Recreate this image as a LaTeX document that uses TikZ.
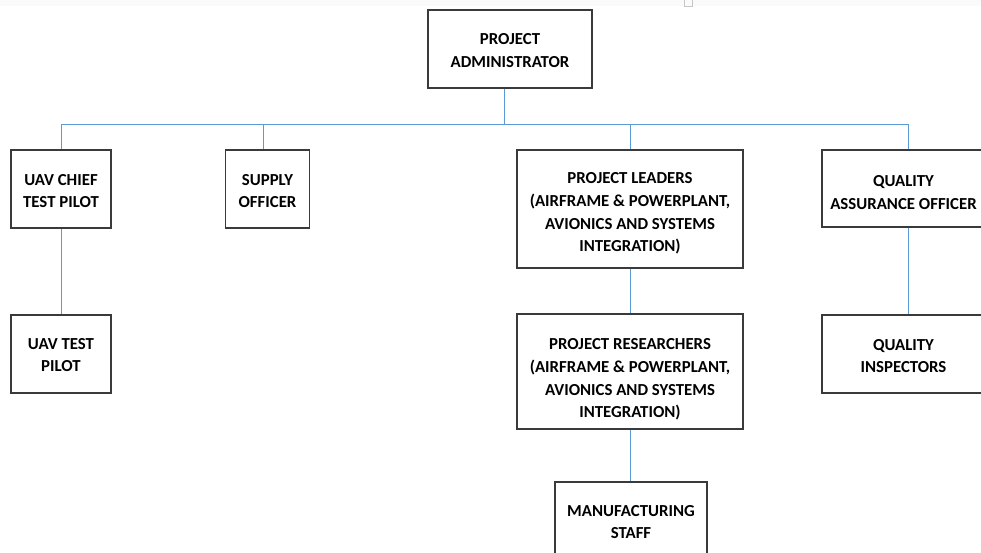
\documentclass[tikz,border=0pt]{standalone}
\usepackage{fontspec}
\setmainfont{Carlito}
\usetikzlibrary{calc}
\definecolor{linkblue}{HTML}{5B9BD5}
\definecolor{boxline}{HTML}{3A3A3A}
\definecolor{topband}{HTML}{FAFAFA}
% invisible strut that lowers the text block inside a fixed-size box
\newcommand\padtop[1]{\rule{0pt}{#1pt}}
\begin{document}
\begin{tikzpicture}[x=1pt,y=-1pt,
  unit/.style={draw=boxline,line width=1.2pt,fill=white,align=center,
    font=\fontsize{16.8}{22.6}\selectfont\bfseries,inner sep=0pt},
  link/.style={draw=linkblue,line width=0.9pt}]
\useasboundingbox (0,0) rectangle (981,553);
\clip (0,0) rectangle (981,553);
\fill[white] (0,0) rectangle (981,553);
\fill[topband] (0,0) rectangle (981,6);
% small gray mark at the top edge
\draw[gray!45,line width=0.8pt] (684.5,0) -- (684.5,6.5) -- (692.5,6.5) -- (692.5,0);

% boxes
\node[unit,minimum width=164,minimum height=78] (admin) at (510,49)
  {\padtop{14}PROJECT\\ADMINISTRATOR};
\node[unit,minimum width=100,minimum height=78] (chief) at (61,189)
  {\padtop{15}UAV CHIEF\\TEST PILOT};
\node[unit,minimum width=84,minimum height=78] (supply) at (267.5,189)
  {\padtop{15}SUPPLY\\OFFICER};
\node[unit,minimum width=226,minimum height=118] (leaders) at (630,209)
  {\padtop{20}PROJECT LEADERS\\(AIRFRAME \& POWERPLANT,\\AVIONICS AND SYSTEMS\\INTEGRATION)};
\node[unit,minimum width=163,minimum height=77] (qa) at (903.5,188.5)
  {\padtop{19}QUALITY\\ASSURANCE OFFICER};
\node[unit,minimum width=100,minimum height=78] (pilot) at (61,354)
  {\padtop{13}UAV TEST\\PILOT};
\node[unit,minimum width=226,minimum height=115] (research) at (630,371.5)
  {\padtop{27}PROJECT RESEARCHERS\\(AIRFRAME \& POWERPLANT,\\AVIONICS AND SYSTEMS\\INTEGRATION)};
\node[unit,minimum width=163,minimum height=78] (qi) at (903.5,354)
  {\padtop{15}QUALITY\\INSPECTORS};
\node[unit,minimum width=152,minimum height=78] (staff) at (631,521)
  {\padtop{13}MANUFACTURING\\STAFF};

% reporting lines
\coordinate (busL) at (61,124);
\coordinate (busR) at (908,124);
\coordinate (adminfoot) at ($(admin.south)+(-6,0)$);
\coordinate (supplytop) at ($(supply.north)+(-4.5,0)$);
\draw[link] (busL) -- (busR);
\draw[link] (adminfoot) -- (adminfoot |- busL);
\draw[link] (busL) -- (chief.north);
\draw[link] (supplytop |- busL) -- (supplytop);
\draw[link] (leaders.north |- busL) -- (leaders.north);
\draw[link] (busR) -- (busR |- qa.north);
\draw[link] (chief.south) -- (pilot.north);
\draw[link] (leaders.south) -- (research.north);
\draw[link] (research.south) -- (research.south |- staff.north);
\draw[link] (busR |- qa.south) -- (busR |- qi.north);
\end{tikzpicture}
\end{document}
